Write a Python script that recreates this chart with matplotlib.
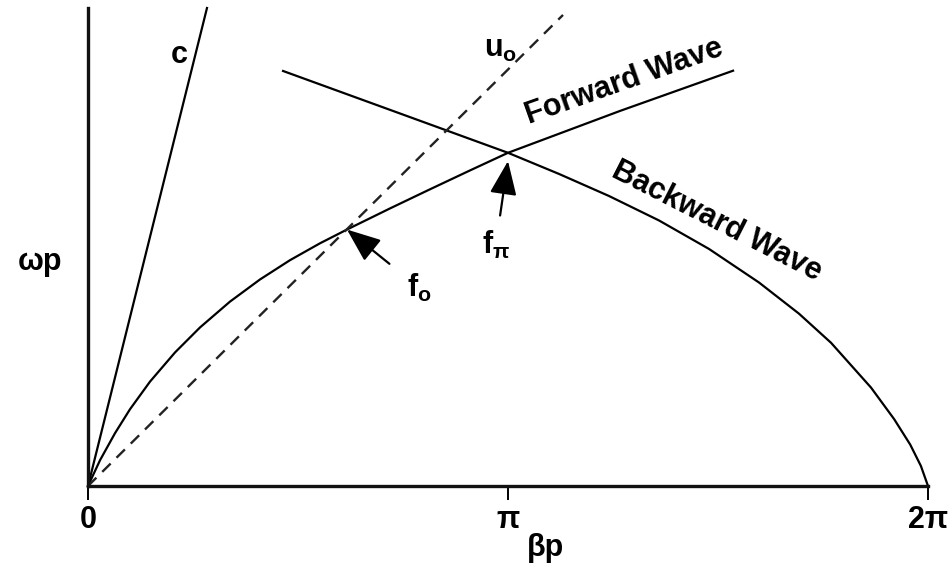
import numpy as np
import matplotlib
matplotlib.use("Agg")
import matplotlib.pyplot as plt

plt.rcParams["font.family"] = ["Liberation Sans", "DejaVu Sans"]
plt.rcParams["font.weight"] = "bold"
plt.rcParams["mathtext.fontset"] = "custom"
plt.rcParams["mathtext.rm"] = "Liberation Sans:bold"
plt.rcParams["mathtext.it"] = "Liberation Sans:bold"
plt.rcParams["mathtext.bf"] = "Liberation Sans:bold"

# dispersion curves (beta*p in rad, omega*p in the same units)
beta_fwd = [0, 0.090, 0.202, 0.314, 0.464, 0.651, 0.838, 1.062, 1.287, 1.511,
            1.735, 1.937, 2.259, 2.558, 2.857, np.pi, 3.979, 4.825]
omega_fwd = [0, 0.193, 0.395, 0.574, 0.781, 0.999, 1.186, 1.379, 1.545, 1.689,
             1.815, 1.918, 2.076, 2.219, 2.360, 2.492, 2.805, 3.106]

beta_bwd = [1.459, 2.334, np.pi, 3.523, 3.897, 4.271, 4.645, 5.019, 5.318,
            5.558, 5.857, 6.030, 6.150, 6.230, 2 * np.pi]
omega_bwd = [3.104, 2.786, 2.492, 2.334, 2.169, 1.986, 1.773, 1.522, 1.289,
             1.071, 0.736, 0.500, 0.310, 0.150, 0]

# light line and beam line through the origin
beta_c = [0, 0.890]
omega_c = [0, 3.575]
beta_u0 = [0, 3.553]
omega_u0 = [0, 3.523]

x_ticks = [0, np.pi, 2 * np.pi]
x_labels = ["0", "π", "2π"]

W, H = 953, 576
fig = plt.figure(figsize=(W / 100, H / 100), dpi=100)
ax = fig.add_axes([88 / W, 90 / H, 840 / W, 478 / H])
ax.set_xlim(0, 2 * np.pi)
ax.set_ylim(0, 3.575)

ax.plot(beta_fwd, omega_fwd, color="black", lw=1.6, clip_on=False)
ax.plot(beta_bwd, omega_bwd, color="black", lw=1.6, clip_on=False)
ax.plot(beta_c, omega_c, color="black", lw=1.6, clip_on=False)
ax.plot(beta_u0, omega_u0, color="#222222", lw=1.7, ls=(0, (5, 3.5)), clip_on=False)

for side in ["top", "right"]:
    ax.spines[side].set_visible(False)
for side in ["left", "bottom"]:
    ax.spines[side].set_linewidth(2.4)
    ax.spines[side].set_color("#111111")

ax.set_yticks([])
ax.set_xticks(x_ticks)
ax.set_xticklabels(x_labels, fontsize=22, fontweight="bold")
ax.tick_params(axis="x", direction="out", length=10, width=1.4, pad=4)

# curve and line labels
ax.text(0.68, 3.22, "c", fontsize=22, ha="center", va="center")
ax.text(3.085, 3.27, r"$u_o$", fontsize=22, ha="center", va="center")
ax.text(4.01, 3.02, "Forward Wave", fontsize=22, rotation=19.5,
        ha="center", va="center", rotation_mode="anchor")
ax.text(4.70, 1.98, "Backward Wave", fontsize=22, rotation=-27,
        ha="center", va="center", rotation_mode="anchor")

# marked operating points
ax.annotate(r"$f_o$", xy=(1.937, 1.918), xytext=(2.48, 1.48),
            fontsize=22, ha="center", va="center",
            arrowprops=dict(arrowstyle="-|>,head_length=0.95,head_width=0.38",
                            color="black", lw=1.6, shrinkB=0, shrinkA=14))
ax.annotate(r"$f_\pi$", xy=(np.pi, 2.43), xytext=(3.05, 1.80),
            fontsize=22, ha="center", va="center",
            arrowprops=dict(arrowstyle="-|>,head_length=0.95,head_width=0.38",
                            color="black", lw=1.6, shrinkB=0, shrinkA=8))

fig.text(40 / W, 1 - 262 / H, "ωp", fontsize=22, ha="center", va="center")
fig.text(546 / W, 1 - 548 / H, "βp", fontsize=22, ha="center", va="center")

fig.savefig("out.png", dpi=100)
